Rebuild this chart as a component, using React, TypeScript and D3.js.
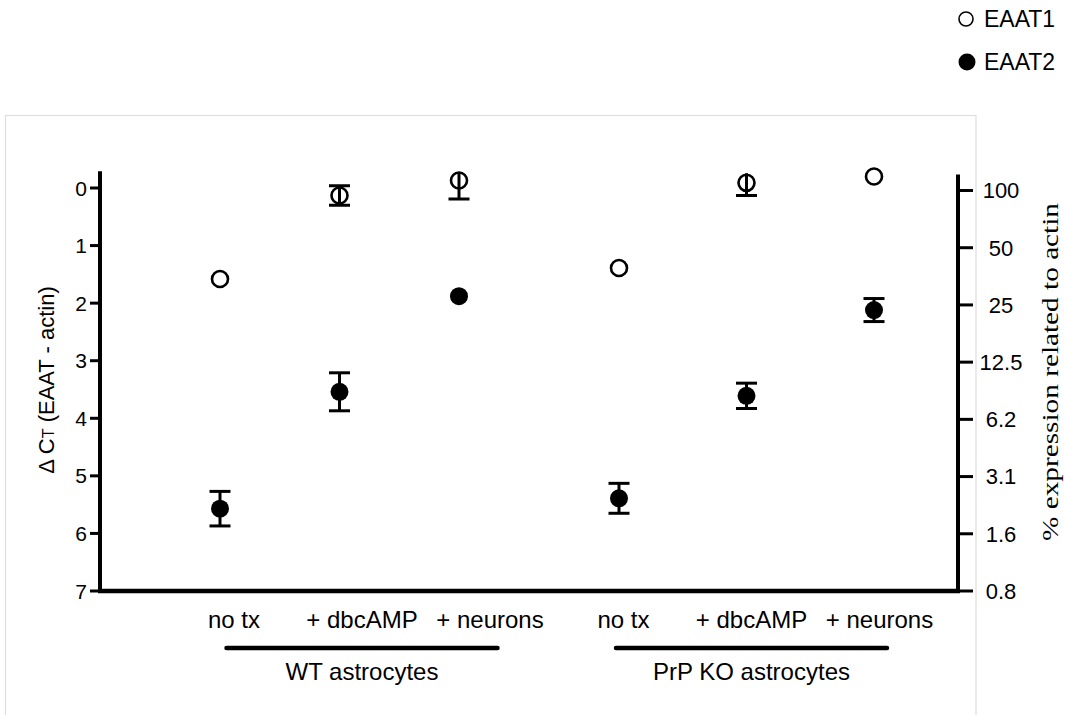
import React from "react";
import * as d3 from "d3";

// ---- data ----
const groups = ["WT astrocytes", "PrP KO astrocytes"];
const conditions = ["no tx", "+ dbcAMP", "+ neurons"];
// ΔCt means and SEM, order: WT(no tx, dbcAMP, neurons), KO(no tx, dbcAMP, neurons)
const eaat1Mean = [1.58, 0.13, -0.13, 1.39, -0.09, -0.2];
const eaat1Err = [0.05, 0.17, 0.32, 0.05, 0.22, 0.05];
const eaat2Mean = [5.57, 3.54, 1.88, 5.39, 3.61, 2.12];
const eaat2Err = [0.3, 0.33, 0.05, 0.26, 0.22, 0.2];
const leftTicks = [0, 1, 2, 3, 4, 5, 6, 7];
const rightTickLabels = ["100", "50", "25", "12.5", "6.2", "3.1", "1.6", "0.8"];
const seriesNames = ["EAAT1", "EAAT2"];

const W = 1065;
const H = 715;
const SANS = "'Liberation Sans', Arial, sans-serif";
const SERIF = "'Liberation Serif', 'Times New Roman', serif";

export default function App() {
  const y = d3.scaleLinear().domain([0, 7]).range([188, 591]);
  const yTop = y(-0.29);
  const yRight = d3.scaleLog().domain([100 / 128, 100]).range([591, 190.5]);
  const rightTickValues = rightTickLabels.map((_, i) => 100 / Math.pow(2, i));

  const xLeft = 100;
  const xRight = 958;

  // point positions: group centre + inner offset
  const groupPt = d3.scalePoint<string>().domain(groups).range([339.5, 746.5]);
  const pointSpread = [119.5, 127.5];
  const inner = d3.scalePoint<string>().domain(conditions).range([-1, 1]);
  const px = (gi: number, ci: number) =>
    (groupPt(groups[gi]) as number) + (inner(conditions[ci]) as number) * pointSpread[gi];

  // label positions
  const groupLbl = d3.scalePoint<string>().domain(groups).range([362, 751.5]);
  const lblSpread = 128;
  const lx = (gi: number, ci: number) =>
    (groupLbl(groups[gi]) as number) + (inner(conditions[ci]) as number) * lblSpread;

  const r = 8;
  const points: { x: number; mean: number; err: number; filled: boolean }[] = [];
  groups.forEach((_, gi) =>
    conditions.forEach((_, ci) => {
      const k = gi * conditions.length + ci;
      points.push({ x: px(gi, ci), mean: eaat1Mean[k], err: eaat1Err[k], filled: false });
      points.push({ x: px(gi, ci), mean: eaat2Mean[k], err: eaat2Err[k], filled: true });
    })
  );

  return (
    <svg width={W} height={H} style={{ display: "block", position: "absolute", left: 0, top: 0, background: "#fff" }}>
      <rect x={0} y={0} width={W} height={H} fill="#fff" />
      {/* frame */}
      <rect x={5.5} y={115.5} width={970.5} height={640} fill="none" stroke="#dedede" strokeWidth={1.2} />

      <defs>
        <clipPath id="plotClip">
          <rect x={xLeft} y={yTop + 2} width={xRight - xLeft} height={600 - yTop} />
        </clipPath>
      </defs>

      {/* left axis */}
      <line x1={xLeft} x2={xLeft} y1={yTop} y2={y(7) + 2} stroke="#000" strokeWidth={4} />
      {leftTicks.map((t) => (
        <g key={"lt" + t}>
          <line x1={xLeft - 10} x2={xLeft} y1={y(t)} y2={y(t)} stroke="#000" strokeWidth={3} />
          <text x={87} y={y(t)} dy="0.36em" textAnchor="end" fontFamily={SANS} fontSize={21} fill="#000">
            {t}
          </text>
        </g>
      ))}
      {/* bottom axis */}
      <line x1={xLeft - 2} x2={xRight + 2} y1={y(7)} y2={y(7)} stroke="#000" strokeWidth={4.5} />
      {/* right axis */}
      <line x1={xRight} x2={xRight} y1={yRight(100) - 16} y2={y(7) + 2} stroke="#000" strokeWidth={4} />
      {rightTickValues.map((v, i) => (
        <g key={"rt" + i}>
          <line x1={xRight} x2={xRight + 15} y1={yRight(v)} y2={yRight(v)} stroke="#000" strokeWidth={3} />
          <text x={1001} y={yRight(v)} dy="0.36em" textAnchor="middle" fontFamily={SANS} fontSize={22} fill="#000">
            {rightTickLabels[i]}
          </text>
        </g>
      ))}

      {/* axis titles */}
      <text
        transform={`translate(46,380) rotate(-90)`}
        textAnchor="middle"
        dy="0.36em"
        fontFamily={SANS}
        fontSize={22}
        fill="#000"
      >
        {"Δ C"}
        <tspan fontSize={16}>T</tspan>
        {" (EAAT - actin)"}
      </text>
      <text
        transform={`translate(1050,372) rotate(-90)`}
        textAnchor="middle"
        dy="0.33em"
        fontFamily={SERIF}
        fontSize={24}
        textLength={338}
        lengthAdjust="spacingAndGlyphs"
        fill="#000"
      >
        % expression related to actin
      </text>

      {/* error bars */}
      <g clipPath="url(#plotClip)">
        {points.map((p, i) => {
          const dy = Math.abs(y(p.err) - y(0));
          if (dy <= r + 1) return null;
          const y1 = y(p.mean - p.err);
          const y2 = y(p.mean + p.err);
          return (
            <g key={"e" + i} stroke="#000" strokeWidth={3}>
              <line x1={p.x} x2={p.x} y1={y1} y2={y2} />
              <line x1={p.x - 10.5} x2={p.x + 10.5} y1={y1} y2={y1} />
              <line x1={p.x - 10.5} x2={p.x + 10.5} y1={y2} y2={y2} />
            </g>
          );
        })}
      </g>

      {/* markers */}
      {points.map((p, i) =>
        p.filled ? (
          <circle key={"m" + i} cx={p.x} cy={y(p.mean)} r={r + 1} fill="#000" />
        ) : (
          <circle key={"m" + i} cx={p.x} cy={y(p.mean)} r={r} fill="none" stroke="#000" strokeWidth={2.6} />
        )
      )}

      {/* category labels */}
      {groups.map((g, gi) => (
        <g key={"g" + gi}>
          {conditions.map((c, ci) => (
            <text
              key={c}
              x={lx(gi, ci)}
              y={628}
              textAnchor="middle"
              fontFamily={SANS}
              fontSize={24}
              fill="#000"
            >
              {c}
            </text>
          ))}
          <line
            x1={(groupLbl(g) as number) - 135.5}
            x2={(groupLbl(g) as number) + 135.5}
            y1={648}
            y2={648}
            stroke="#000"
            strokeWidth={4.5}
            strokeLinecap="round"
          />
          <text x={groupLbl(g) as number} y={680} textAnchor="middle" fontFamily={SANS} fontSize={24} fill="#000">
            {g}
          </text>
        </g>
      ))}

      {/* legend */}
      <circle cx={966} cy={19} r={7} fill="none" stroke="#000" strokeWidth={1.6} />
      <text x={984} y={19} dy="0.36em" fontFamily={SANS} fontSize={23} fill="#000">
        {seriesNames[0]}
      </text>
      <circle cx={967} cy={62} r={8.5} fill="#000" />
      <text x={984} y={62} dy="0.36em" fontFamily={SANS} fontSize={23} fill="#000">
        {seriesNames[1]}
      </text>
    </svg>
  );
}
